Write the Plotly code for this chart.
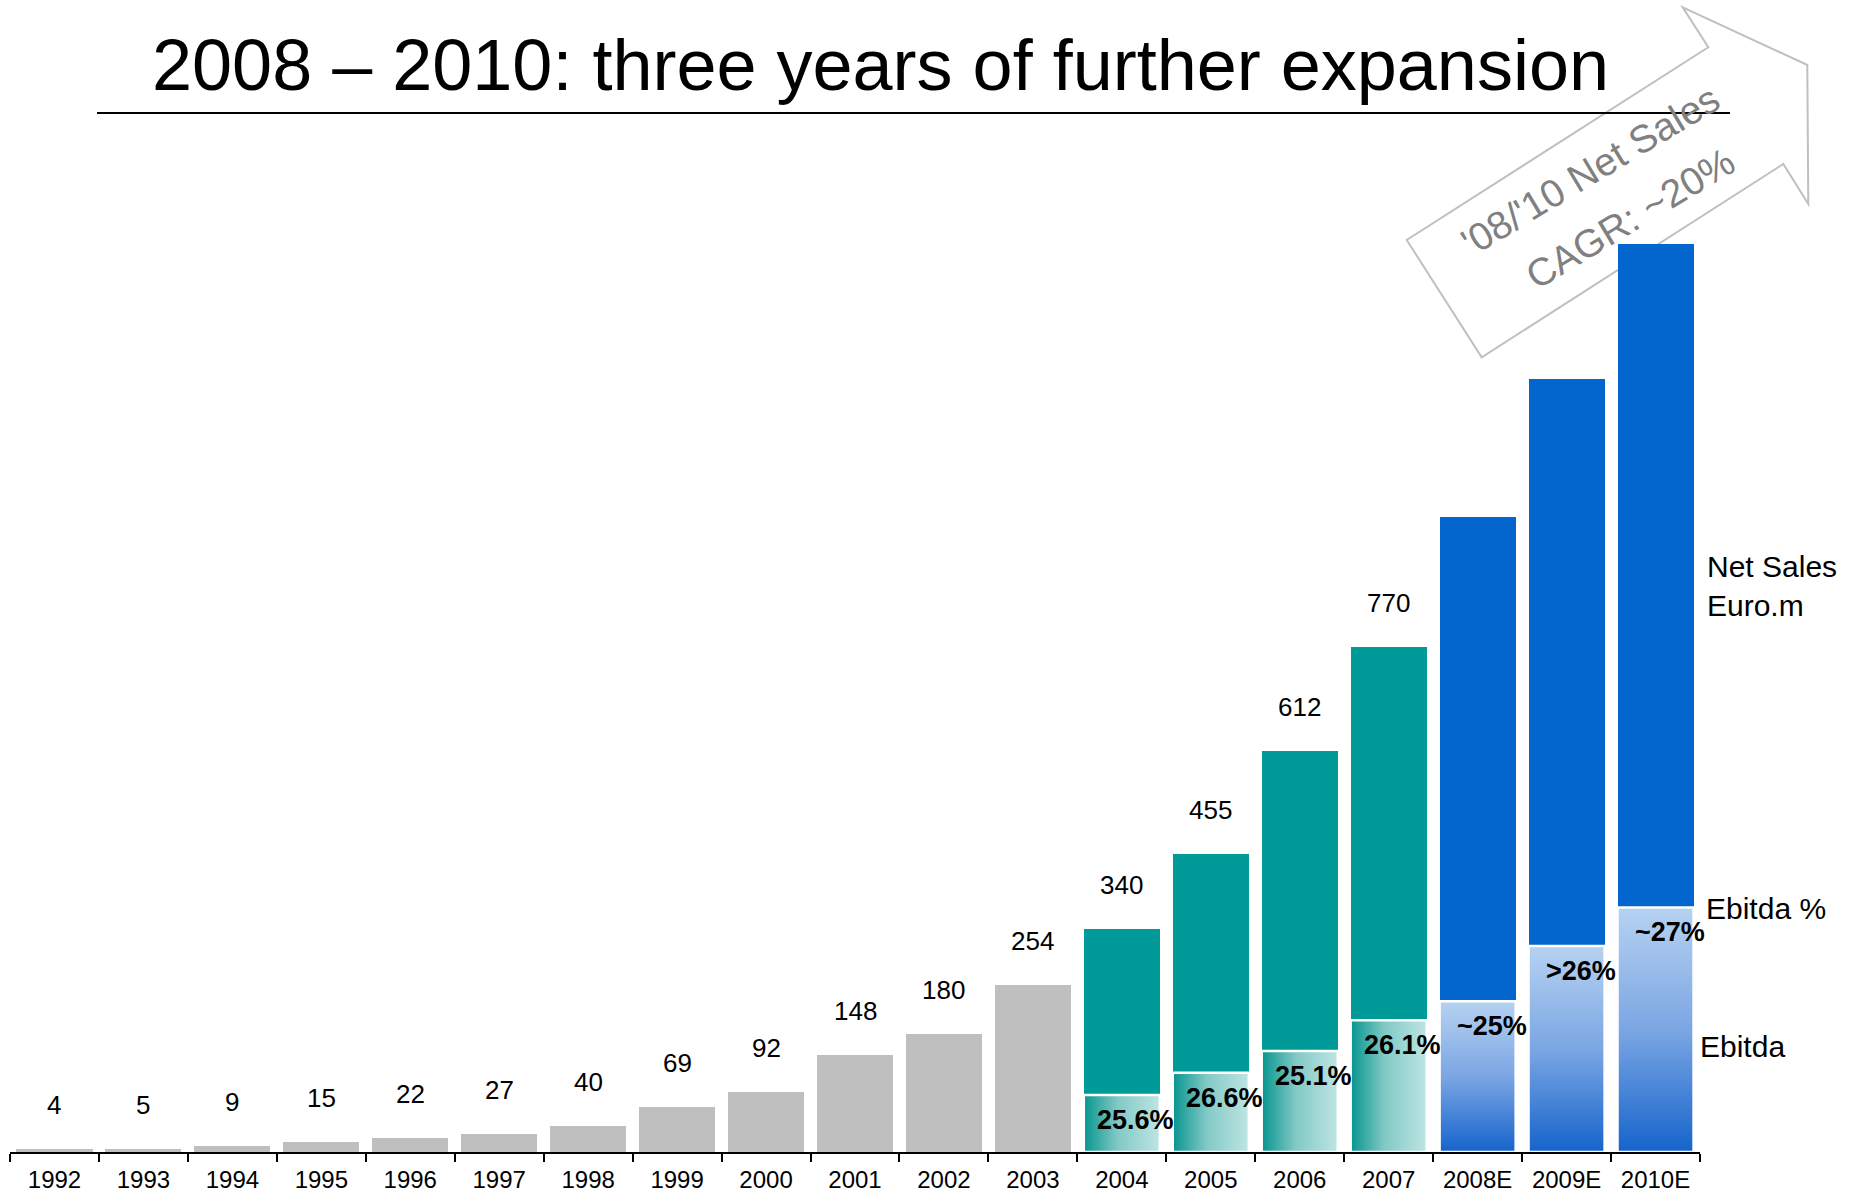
import plotly.graph_objects as go

# ---------------- data ----------------
years = ['1992', '1993', '1994', '1995', '1996', '1997', '1998', '1999', '2000',
         '2001', '2002', '2003', '2004', '2005', '2006', '2007', '2008E', '2009E', '2010E']
net_sales = [4, 5, 9, 15, 22, 27, 40, 69, 92, 148, 180, 254, 340, 455, 612, 770, 968, 1178, 1385]
phase = ['hist'] * 12 + ['actual'] * 4 + ['estimate'] * 3
ebitda_years = ['2004', '2005', '2006', '2007', '2008E', '2009E', '2010E']
ebitda = [87, 121, 154, 201, 230, 314, 373]
ebitda_pct = ['25.6%', '26.6%', '25.1%', '26.1%', '~25%', '>26%', '~27%']

title_text = '2008 – 2010: three years of further expansion'
arrow_line1 = "'08/'10 Net Sales"
arrow_line2 = 'CAGR: ~20%'

# ---------------- styling ----------------
W, H = 1864, 1195
ML, MR, MT, MB = 10, 164, 130, 43
PW = W - ML - MR
PH = H - MT - MB
BASE_Y = H - MB
YMAX = 1558.4
BAR_W = 0.855
FONT = 'Liberation Sans, Arial, sans-serif'

colors = {'hist': '#BFBFBF', 'actual': '#009B98', 'estimate': '#0366CF'}


def px_x(px):
    return (px - ML) / PW


def px_y(py):
    return (BASE_Y - py) / PH


fig = go.Figure()

xs = list(range(len(years)))
fig.add_trace(go.Bar(
    x=xs, y=net_sales, width=BAR_W,
    marker=dict(color=[colors[p] for p in phase], line=dict(width=0)),
    hoverinfo='skip', showlegend=False,
))

# Ebitda segments with gradients
for yr, e in zip(ebitda_years, ebitda):
    i = years.index(yr)
    x0, x1 = i - BAR_W / 2, i + BAR_W / 2
    if phase[i] == 'actual':
        grad = dict(type='horizontal',
                    colorscale=[[0, '#07958F'], [0.45, '#82C9C6'], [1, '#BEE5E3']])
    else:
        grad = dict(type='vertical',
                    colorscale=[[0, '#1564CC'], [0.5, '#7BA6E3'], [1, '#B6D2F2']])
    fig.add_trace(go.Scatter(
        x=[x0, x1, x1, x0, x0], y=[0, 0, e, e, 0],
        mode='lines', fill='toself', fillgradient=grad,
        line=dict(color='white', width=2.5),
        hoverinfo='skip', showlegend=False,
    ))

annotations = []
# Net sales value labels (actual years only)
for i, (v, p) in enumerate(zip(net_sales, phase)):
    if p != 'estimate':
        annotations.append(dict(x=i, y=v, xref='x', yref='y', text=str(v),
                                showarrow=False, yanchor='middle', yshift=44,
                                font=dict(family=FONT, size=26, color='black')))
# Ebitda % labels
for yr, e, t in zip(ebitda_years, ebitda, ebitda_pct):
    i = years.index(yr)
    annotations.append(dict(x=i, y=e, xref='x', yref='y', text='<b>' + t + '</b>',
                            showarrow=False, yanchor='middle', yshift=-25, xshift=14,
                            font=dict(family=FONT, size=27, color='black')))

# Title
annotations.append(dict(x=px_x(881), y=px_y(65), xref='paper', yref='paper',
                        text=title_text, showarrow=False,
                        xanchor='center', yanchor='middle',
                        font=dict(family=FONT, size=72, color='black')))

# Right-hand legend labels
annotations.append(dict(x=px_x(1705), y=px_y(586), xref='paper', yref='paper',
                        text='Net Sales<br>Euro.m', showarrow=False, align='left',
                        xanchor='left', yanchor='middle',
                        font=dict(family=FONT, size=30, color='black')))
annotations.append(dict(x=px_x(1704), y=px_y(908), xref='paper', yref='paper',
                        text='Ebitda %', showarrow=False,
                        xanchor='left', yanchor='middle',
                        font=dict(family=FONT, size=30, color='black')))
annotations.append(dict(x=px_x(1698), y=px_y(1046), xref='paper', yref='paper',
                        text='Ebitda', showarrow=False,
                        xanchor='left', yanchor='middle',
                        font=dict(family=FONT, size=30, color='black')))

# Arrow text
annotations.append(dict(x=px_x(1590), y=px_y(170), xref='paper', yref='paper',
                        text=arrow_line1, showarrow=False, textangle=-31,
                        xanchor='center', yanchor='middle',
                        font=dict(family=FONT, size=39, color='#808080')))
annotations.append(dict(x=px_x(1630), y=px_y(219), xref='paper', yref='paper',
                        text=arrow_line2, showarrow=False, textangle=-31,
                        xanchor='center', yanchor='middle',
                        font=dict(family=FONT, size=39, color='#808080')))

# Shapes: title underline and the big outlined arrow
arrow_pts = [(1406.7, 240), (1481.7, 357.3), (1783.3, 164), (1808.3, 204),
             (1807.3, 65), (1682.7, 7.3), (1708.3, 47.3)]
path = 'M ' + ' L '.join(f'{px_x(a):.5f},{px_y(b):.5f}' for a, b in arrow_pts) + ' Z'
shapes = [
    dict(type='line', xref='paper', yref='paper',
         x0=px_x(97), x1=px_x(1730), y0=px_y(113), y1=px_y(113),
         line=dict(color='black', width=2)),
    dict(type='path', xref='paper', yref='paper', path=path,
         line=dict(color='#C0C0C0', width=2), fillcolor='rgba(0,0,0,0)', layer='below'),
]

fig.update_layout(
    width=W, height=H,
    margin=dict(l=ML, r=MR, t=MT, b=MB, pad=0),
    paper_bgcolor='white', plot_bgcolor='white',
    bargap=0, showlegend=False,
    annotations=annotations, shapes=shapes,
    xaxis=dict(range=[-0.5, len(years) - 0.5], tickmode='array', tickvals=xs,
               ticktext=years, ticks='outside', ticklen=5,
               tickcolor='rgba(0,0,0,0)', showline=True, linecolor='black',
               linewidth=2, showgrid=False, zeroline=False, automargin=False,
               tickfont=dict(family=FONT, size=24, color='black'),
               minor=dict(tickmode='array', tickvals=[i - 0.5 for i in range(len(years) + 1)],
                          ticks='outside', ticklen=8, tickwidth=2, tickcolor='black',
                          showgrid=False)),
    yaxis=dict(range=[0, YMAX], visible=False, showgrid=False, zeroline=False,
               automargin=False),
)

fig.write_html('out.html')
